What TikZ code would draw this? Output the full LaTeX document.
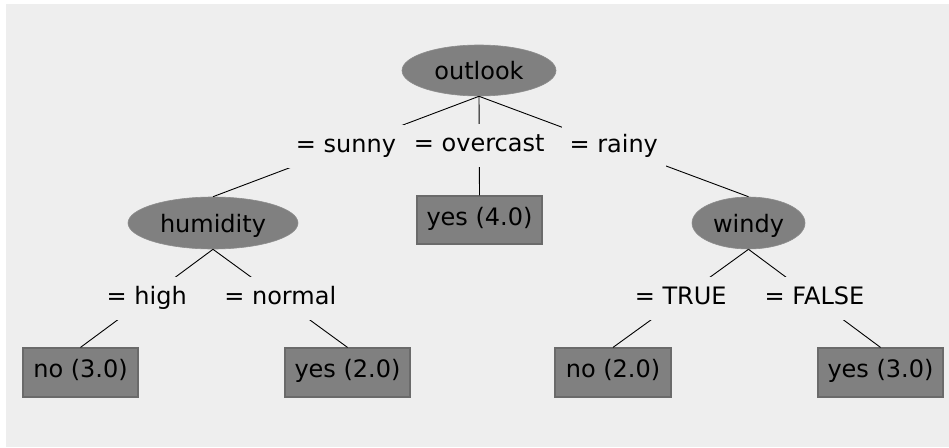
\documentclass[tikz,border=0pt]{standalone}
\usepackage{fontspec}
\setmainfont{DejaVu Sans}
\usetikzlibrary{shapes.geometric}
\definecolor{bgc}{HTML}{EEEEEE}
\definecolor{nodefill}{HTML}{808080}
\definecolor{nodeedge}{HTML}{6A6A6A}
\tikzset{
  every node/.style={font=\fontsize{24}{28}\selectfont},
  split/.style={ellipse, fill=nodefill, draw=nodefill!90!white, line width=0.6pt, inner sep=0pt, text height=20pt, text depth=2pt},
  leaf/.style={rectangle, fill=nodefill, draw=nodeedge, line width=1.2pt, inner sep=0pt, minimum height=49pt, text height=18pt, text depth=8pt},
  lbl/.style={fill=bgc, inner xsep=8pt, inner ysep=9.5pt, text height=18pt, text depth=6pt},
  conn/.style={draw=black, line width=0.9pt}
}
\begin{document}
\begin{tikzpicture}[x=1pt,y=-1pt]
\useasboundingbox (0,0) rectangle (949,447);
\fill[bgc] (6,4) rectangle (949,447);
% split nodes
\node[split, minimum width=154pt, minimum height=51pt] (outlook) at (479,70.5) {outlook};
\node[split, minimum width=170pt, minimum height=52pt] (humidity) at (213,223) {humidity};
\node[split, minimum width=113pt, minimum height=52pt] (windy) at (748.5,223) {windy};
% leaves
\node[leaf, minimum width=125pt, minimum height=48pt] (yes4) at (479.5,220) {yes (4.0)};
\node[leaf, minimum width=115pt] (no3) at (80.5,372.5) {no (3.0)};
\node[leaf, minimum width=125pt] (yes2) at (347.5,372.5) {yes (2.0)};
\node[leaf, minimum width=116pt] (no2) at (613,372.5) {no (2.0)};
\node[leaf, minimum width=125pt] (yes3) at (880.5,372.5) {yes (3.0)};
% connectors with labels
\draw[conn] (outlook.south) -- node[lbl] (lsunny) {= sunny} (humidity.north);
\draw[conn] (outlook.south) -- node[lbl] (lover) {= overcast} (yes4.north);
\draw[conn] (outlook.south) -- node[lbl] (lrainy) {= rainy} (windy.north);
\draw[conn] (humidity.south) -- node[lbl] (lhigh) {= high} (no3.north);
\draw[conn] (humidity.south) -- node[lbl] (lnormal) {= normal} (yes2.north);
\draw[conn] (windy.south) -- node[lbl] (ltrue) {= TRUE} (no2.north);
\draw[conn] (windy.south) -- node[lbl] (lfalse) {= FALSE} (yes3.north);
\end{tikzpicture}
\end{document}
